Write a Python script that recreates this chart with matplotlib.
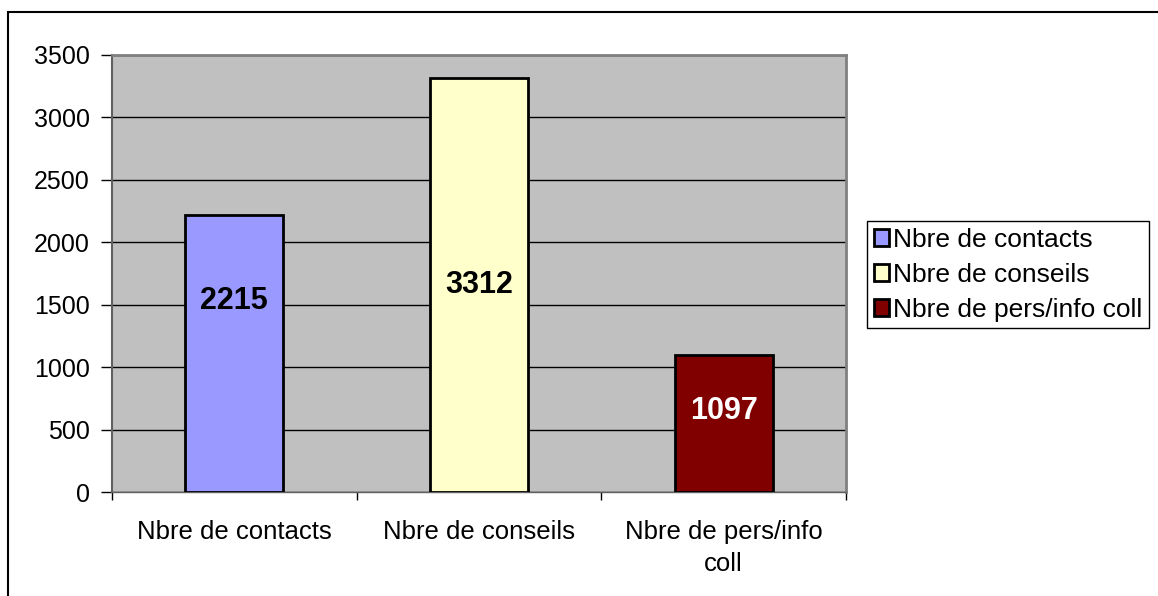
import matplotlib.pyplot as plt
from matplotlib.patches import Rectangle

categories = ["Nbre de contacts", "Nbre de conseils", "Nbre de pers/info coll"]
tick_labels = ["Nbre de contacts", "Nbre de conseils", "Nbre de pers/info\ncoll"]
values = [2215, 3312, 1097]
colors = ["#9999FF", "#FFFFCC", "#800000"]
label_colors = ["black", "black", "white"]
# label heights as fraction of each bar (as placed in the original)
label_frac = [0.69, 0.50, 0.59]

plt.rcParams["font.family"] = ["Liberation Sans", "DejaVu Sans"]

fig = plt.figure(figsize=(11.58, 5.96), dpi=100)
ax = fig.add_axes([112 / 1158, 1 - 492 / 596, 734 / 1158, 437 / 596])

# outer chart border
fig.patches.append(Rectangle((8 / 1158, -0.1), 1.2, 0.1 + (1 - 12 / 596),
                             transform=fig.transFigure, fill=False,
                             edgecolor="black", linewidth=1.5, zorder=0))

ax.set_facecolor("#C0C0C0")
x = list(range(len(values)))
bars = ax.bar(x, values, width=0.4, color=colors, edgecolor="black",
              linewidth=2, zorder=3, label=categories)

for xi, v, c, f in zip(x, values, label_colors, label_frac):
    ax.text(xi, v * f, str(v), ha="center", va="center", fontsize=22,
            fontweight="bold", color=c, zorder=4)

ax.set_xlim(-0.5, 2.5)
ax.set_ylim(0, 3500)
ax.set_yticks(range(0, 3501, 500))
ax.yaxis.grid(True, color="black", linewidth=1, zorder=1)
ax.set_axisbelow(True)

ax.set_xticks([-0.5, 0.5, 1.5, 2.5])
ax.set_xticklabels([])
ax.set_xticks(x, minor=True)
ax.set_xticklabels(tick_labels, minor=True, fontsize=18.5, linespacing=1.45)
ax.tick_params(axis="x", which="minor", length=0, pad=20)
ax.tick_params(axis="x", which="major", length=6, width=1, color="black")
ax.tick_params(axis="y", length=8, width=1, labelsize=18, pad=8)

for s in ["top", "right"]:
    ax.spines[s].set_color("#808080")
    ax.spines[s].set_linewidth(2)
ax.spines["left"].set_color("#606060")
ax.spines["left"].set_linewidth(1.5)
ax.spines["bottom"].set_color("#606060")
ax.spines["bottom"].set_linewidth(1)

handles = [Rectangle((0, 0), 1, 1, facecolor=c, edgecolor="black", linewidth=2)
           for c in colors]
leg = fig.legend(handles, categories, loc="upper left",
                 bbox_to_anchor=(867 / 1158, 1 - 221 / 596), fontsize=19,
                 frameon=True, fancybox=False, framealpha=1, edgecolor="black",
                 handlelength=0.6, handleheight=0.6, handletextpad=0.15,
                 borderpad=0.25, labelspacing=0.42, borderaxespad=0)
leg.get_frame().set_linewidth(1)

plt.savefig("out.png", dpi=100)
plt.close()
